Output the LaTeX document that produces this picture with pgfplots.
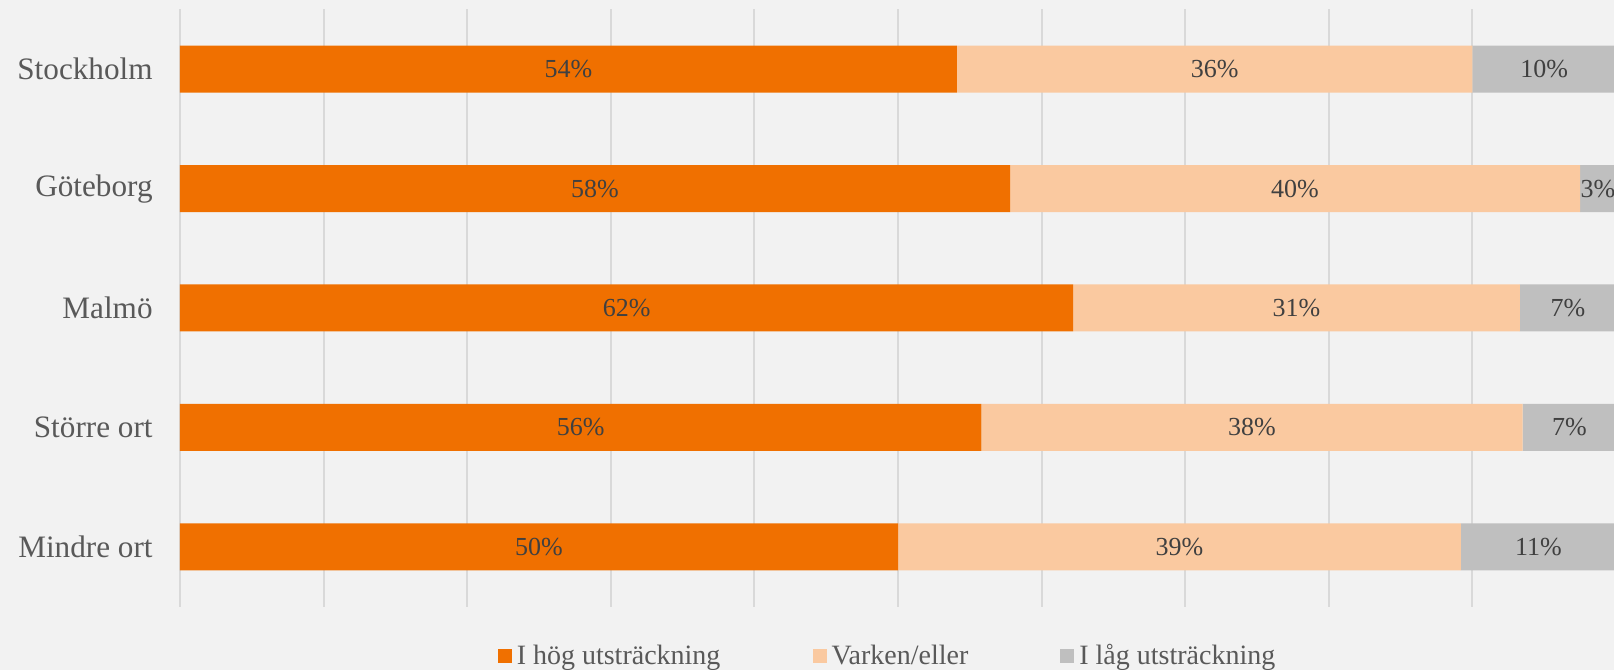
\documentclass[border=0pt]{standalone}
\usepackage{pgfplots}
\pgfplotsset{compat=1.18}
\usepackage{pgfplotstable}
\usepackage{fontspec}
\setmainfont{Liberation Serif}

\definecolor{hog}{HTML}{F07000}
\definecolor{varken}{HTML}{FAC9A0}
\definecolor{lag}{HTML}{BFBFBF}
\definecolor{bg}{HTML}{F2F2F2}
\definecolor{gridc}{HTML}{D9D9D9}
\definecolor{labc}{HTML}{595959}
\definecolor{valc}{HTML}{404040}

% share of answers per city type, segment widths and printed labels
\pgfplotstableread{
y hog  varken lag  lhog lvarken llag
4 54.1 35.9   10.0 54   36      10
3 57.8 39.7   2.5  58   40      3
2 62.2 31.1   6.7  62   31      7
1 55.8 37.7   6.5  56   38      7
0 50.0 39.2   10.8 50   39      11
}\data

\begin{document}
\begin{tikzpicture}
\path[use as bounding box] (0,0) rectangle (807pt,335pt);
\clip (0,0) rectangle (807pt,335pt);
\fill[bg] (0,0) rectangle (807pt,335pt);
\begin{axis}[
    at={(90pt,31.75pt)}, anchor=south west,
    scale only axis,
    width=718pt, height=298.5pt,
    xbar stacked,
    bar width=23.5pt,
    xmin=0, xmax=100,
    ymin=-0.5, ymax=4.5,
    xtick={0,10,...,100},
    xticklabels={},
    ytick={0,1,2,3,4},
    yticklabels={Mindre ort, Större ort, Malmö, Göteborg, Stockholm},
    yticklabel style={anchor=east, inner sep=0pt, xshift=-13.5pt,
        font=\fontsize{15.6}{18}\selectfont, text=labc},
    major tick length=0pt,
    xmajorgrids,
    grid style={gridc, line width=1pt},
    axis line style={draw=none},
    legend image code/.code={\fill[#1] (0pt,-3.5pt) rectangle (7pt,3.5pt);},
    legend columns=3,
    legend style={
        at={(0.492,-0.0829)}, anchor=center,
        draw=none, fill=none,
        font=\fontsize{14}{16}\selectfont, text=labc,
        nodes={inner sep=0pt},
        /tikz/every odd column/.append style={column sep=2.5pt},
        /tikz/every even column/.append style={column sep=46pt},
    },
    nodes near coords={\pgfplotspointmeta\%},
    nodes near coords style={anchor=center, text=valc,
        font=\fontsize{13}{15}\selectfont},
    point meta=explicit symbolic,
]
\addplot[fill=hog, draw=none] table[x=hog, y=y, meta=lhog] {\data};
\addplot[fill=varken, draw=none] table[x=varken, y=y, meta=lvarken] {\data};
\addplot[fill=lag, draw=none] table[x=lag, y=y, meta=llag] {\data};
\legend{I hög utsträckning, Varken/eller, I låg utsträckning}
\end{axis}
\end{tikzpicture}
\end{document}
